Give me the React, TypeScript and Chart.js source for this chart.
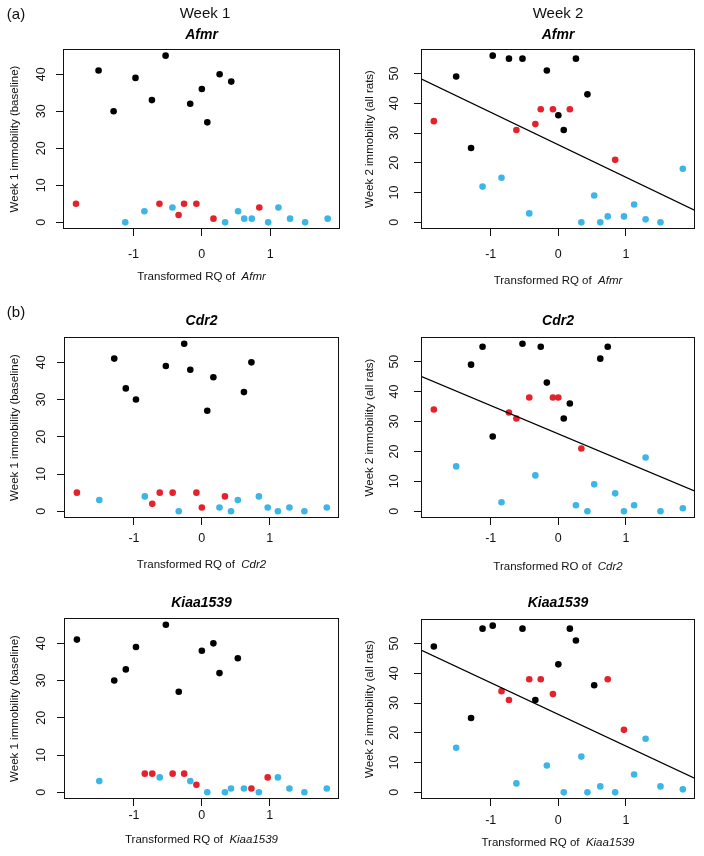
import React, { useEffect, useRef } from "react";
import { Chart, registerables } from "chart.js";

Chart.register(...registerables);

const FONT = '"Liberation Sans", Arial, Helvetica, sans-serif';
Chart.defaults.font.family = FONT;

const BLACK = "#000000";
const RED = "#E4222B";
const BLUE = "#3DB5E6";

// ---------- DATA (transformed RQ = x, immobility = y) ----------
// Afmr
const afmrBlackX = [-1.51, -1.29, -0.97, -0.73, -0.53, -0.17, 0, 0.08, 0.26, 0.43];
const afmrBlackW1 = [41, 30, 39, 33, 45, 32, 36, 27, 40, 38];
const afmrBlackW2 = [49, 25, 56, 55, 55, 51, 36, 31, 55, 43];
const afmrRedX = [-1.84, -0.62, -0.34, -0.26, -0.08, 0.17, 0.84];
const afmrRedW1 = [5, 5, 2, 5, 5, 1, 4];
const afmrRedW2 = [34, 31, 33, 38, 38, 38, 21];
const afmrBlueX = [-1.12, -0.84, -0.43, 0.34, 0.53, 0.62, 0.73, 0.97, 1.12, 1.29, 1.51, 1.84];
const afmrBlueW1 = [0, 3, 4, 0, 3, 1, 1, 0, 4, 1, 0, 1];
const afmrBlueW2 = [12, 15, 3, 0, 9, 0, 2, 2, 6, 1, 0, 18];
const afmrLineY = [48.2, 4.0];

// Cdr2
const cdr2BlackX = [-1.29, -1.12, -0.97, -0.53, -0.26, -0.17, 0.08, 0.17, 0.62, 0.73];
const cdr2BlackW1 = [41, 33, 30, 39, 45, 38, 27, 36, 32, 40];
const cdr2BlackW2 = [49, 55, 25, 56, 55, 43, 31, 36, 51, 55];
const cdr2RedX = [-1.84, -0.73, -0.62, -0.43, -0.08, 0, 0.34];
const cdr2RedW1 = [5, 2, 5, 5, 5, 1, 4];
const cdr2RedW2 = [34, 33, 31, 38, 38, 38, 21];
const cdr2BlueX = [-1.51, -0.84, -0.34, 0.26, 0.43, 0.53, 0.84, 0.97, 1.12, 1.29, 1.51, 1.84];
const cdr2BlueW1 = [3, 4, 0, 1, 0, 3, 4, 1, 0, 1, 0, 1];
const cdr2BlueW2 = [15, 3, 12, 2, 0, 9, 6, 0, 2, 18, 0, 1];
const cdr2LineY = [45.1, 6.7];

// Kiaa1539
const kiaaBlackX = [-1.84, -1.29, -1.12, -0.97, -0.53, -0.34, 0, 0.17, 0.26, 0.53];
const kiaaBlackW1 = [41, 30, 33, 39, 45, 27, 38, 40, 32, 36];
const kiaaBlackW2 = [49, 25, 55, 56, 55, 31, 43, 55, 51, 36];
const kiaaRedX = [-0.84, -0.73, -0.43, -0.26, -0.08, 0.73, 0.97];
const kiaaRedW1 = [5, 5, 5, 5, 2, 1, 4];
const kiaaRedW2 = [34, 31, 38, 38, 33, 38, 21];
const kiaaBlueX = [-1.51, -0.62, -0.17, 0.08, 0.34, 0.43, 0.62, 0.84, 1.12, 1.29, 1.51, 1.84];
const kiaaBlueW1 = [3, 4, 3, 0, 0, 1, 1, 0, 4, 1, 0, 1];
const kiaaBlueW2 = [15, 3, 9, 0, 12, 0, 2, 0, 6, 18, 2, 1];
const kiaaLineY = [47.8, 4.7];

// axes
const xRange = [-2.03, 2.02];
const w1Range = [-1.8, 46.8];
const w2Range = [-2.24, 58.24];
const xTicks = [-1, 0, 1];
const w1Ticks = [0, 10, 20, 30, 40];
const w2Ticks = [0, 10, 20, 30, 40, 50];

const w1Title = "Week 1 immobility (baseline)";
const w2Title = "Week 2 immobility (all rats)";

type Header = { text: string; x: number; y: number };
type Spec = {
  gene: string;
  week: 1 | 2;
  cx: number; cy: number; cw: number; ch: number;
  plot: [number, number, number, number];
  blackX: number[]; blackY: number[];
  redX: number[]; redY: number[];
  blueX: number[]; blueY: number[];
  lineY?: number[];
  titleY: number;
  xLabelY: number;
  xTitleY: number;
  yLabelX: number;
  yTitleX: number;
  headers: Header[];
};

const specs: Spec[] = [
  {
    gene: "Afmr", week: 1, cx: 0, cy: 0, cw: 352, ch: 290, plot: [63, 49, 340, 229],
    blackX: afmrBlackX, blackY: afmrBlackW1, redX: afmrRedX, redY: afmrRedW1, blueX: afmrBlueX, blueY: afmrBlueW1,
    titleY: 35, xLabelY: 255, xTitleY: 277, yLabelX: 42, yTitleX: 15,
    headers: [{ text: "(a)", x: 16, y: 15 }, { text: "Week 1", x: 205, y: 14 }],
  },
  {
    gene: "Afmr", week: 2, cx: 352, cy: 0, cw: 352, ch: 290, plot: [421, 49, 695, 229],
    blackX: afmrBlackX, blackY: afmrBlackW2, redX: afmrRedX, redY: afmrRedW2, blueX: afmrBlueX, blueY: afmrBlueW2,
    lineY: afmrLineY,
    titleY: 35, xLabelY: 255, xTitleY: 281, yLabelX: 395, yTitleX: 370,
    headers: [{ text: "Week 2", x: 558, y: 14 }],
  },
  {
    gene: "Cdr2", week: 1, cx: 0, cy: 290, cw: 352, ch: 280, plot: [64, 337, 339, 518],
    blackX: cdr2BlackX, blackY: cdr2BlackW1, redX: cdr2RedX, redY: cdr2RedW1, blueX: cdr2BlueX, blueY: cdr2BlueW1,
    titleY: 321, xLabelY: 539, xTitleY: 565, yLabelX: 42, yTitleX: 15,
    headers: [{ text: "(b)", x: 16, y: 313 }],
  },
  {
    gene: "Cdr2", week: 2, cx: 352, cy: 290, cw: 352, ch: 280, plot: [421, 337, 695, 518],
    blackX: cdr2BlackX, blackY: cdr2BlackW2, redX: cdr2RedX, redY: cdr2RedW2, blueX: cdr2BlueX, blueY: cdr2BlueW2,
    lineY: cdr2LineY,
    titleY: 321, xLabelY: 539, xTitleY: 567, yLabelX: 395, yTitleX: 370,
    headers: [],
  },
  {
    gene: "Kiaa1539", week: 1, cx: 0, cy: 570, cw: 352, ch: 286, plot: [64, 618, 339, 799],
    blackX: kiaaBlackX, blackY: kiaaBlackW1, redX: kiaaRedX, redY: kiaaRedW1, blueX: kiaaBlueX, blueY: kiaaBlueW1,
    titleY: 603, xLabelY: 816, xTitleY: 840, yLabelX: 42, yTitleX: 15,
    headers: [],
  },
  {
    gene: "Kiaa1539", week: 2, cx: 352, cy: 570, cw: 352, ch: 286, plot: [421, 619, 695, 799],
    blackX: kiaaBlackX, blackY: kiaaBlackW2, redX: kiaaRedX, redY: kiaaRedW2, blueX: kiaaBlueX, blueY: kiaaBlueW2,
    lineY: kiaaLineY,
    titleY: 603, xLabelY: 821, xTitleY: 843, yLabelX: 395, yTitleX: 370,
    headers: [],
  },
];

const TICK_SIZE = 12.5;
const TICK_LEN = 7;

function pts(xs: number[], ys: number[]) {
  return xs.map((x, i) => ({ x, y: ys[i] }));
}

function Panel({ spec }: { spec: Spec }) {
  const ref = useRef<HTMLCanvasElement | null>(null);

  useEffect(() => {
    const canvas = ref.current;
    if (!canvas) return;
    const s = spec;
    const [pl, pt, pr, pb] = s.plot;
    const yRange = s.week === 1 ? w1Range : w2Range;
    const yTicks = s.week === 1 ? w1Ticks : w2Ticks;
    const yTitle = s.week === 1 ? w1Title : w2Title;

    const datasets: any[] = [];
    if (s.lineY) {
      datasets.push({
        data: [{ x: xRange[0], y: s.lineY[0] }, { x: xRange[1], y: s.lineY[1] }],
        showLine: true,
        borderColor: BLACK,
        borderWidth: 1.3,
        pointRadius: 0,
        fill: false,
      });
    }
    const dot = (data: any[], color: string) => ({
      data,
      pointRadius: 3.3,
      pointBackgroundColor: color,
      pointBorderColor: color,
      pointBorderWidth: 0,
      backgroundColor: color,
      borderColor: color,
      showLine: false,
    });
    datasets.push(dot(pts(s.blueX, s.blueY), BLUE));
    datasets.push(dot(pts(s.redX, s.redY), RED));
    datasets.push(dot(pts(s.blackX, s.blackY), BLACK));

    const decor = {
      id: "decor" + s.gene + s.week,
      afterDraw(chart: any) {
        const ctx = chart.ctx as CanvasRenderingContext2D;
        const a = chart.chartArea;
        ctx.save();
        // plot box
        ctx.strokeStyle = "#111";
        ctx.lineWidth = 1;
        ctx.strokeRect(Math.round(a.left) + 0.5, Math.round(a.top) + 0.5,
          Math.round(a.right - a.left) - 1, Math.round(a.bottom - a.top) - 1);

        // y tick labels (rotated, as in R)
        const ys = chart.scales.y;
        ctx.fillStyle = "#111";
        ctx.font = `${TICK_SIZE}px ${FONT}`;
        ctx.textAlign = "center";
        ctx.textBaseline = "middle";
        for (const v of yTicks) {
          const py = ys.getPixelForValue(v);
          ctx.save();
          ctx.translate(s.yLabelX - s.cx, py);
          ctx.rotate(-Math.PI / 2);
          ctx.fillText(String(v), 0, 0);
          ctx.restore();
        }

        // y title
        ctx.font = `11.5px ${FONT}`;
        ctx.save();
        ctx.translate(s.yTitleX - s.cx, (a.top + a.bottom) / 2);
        ctx.rotate(-Math.PI / 2);
        ctx.fillText(yTitle, 0, 0);
        ctx.restore();

        // x title with italic gene
        const part1 = "Transformed RQ of  ";
        ctx.font = `11.5px ${FONT}`;
        const w1 = ctx.measureText(part1).width;
        ctx.font = `italic 11.5px ${FONT}`;
        const w2 = ctx.measureText(s.gene).width;
        const startX = (a.left + a.right) / 2 - (w1 + w2) / 2;
        const ty = s.xTitleY - s.cy;
        ctx.textAlign = "left";
        ctx.font = `11.5px ${FONT}`;
        ctx.fillText(part1, startX, ty);
        ctx.font = `italic 11.5px ${FONT}`;
        ctx.fillText(s.gene, startX + w1, ty);

        // panel title (bold italic)
        ctx.textAlign = "center";
        ctx.fillStyle = "#000";
        ctx.font = `italic bold 14px ${FONT}`;
        ctx.fillText(s.gene, (a.left + a.right) / 2, s.titleY - s.cy);

        // headers
        ctx.font = `15px ${FONT}`;
        ctx.fillStyle = "#111";
        for (const h of s.headers) {
          ctx.fillText(h.text, h.x - s.cx, h.y - s.cy);
        }
        ctx.restore();
      },
    };

    const xPad = s.xLabelY - pb - TICK_LEN - 0.6 * TICK_SIZE;

    const chart = new Chart(canvas, {
      type: "scatter",
      data: { datasets },
      options: {
        animation: false,
        responsive: false,
        maintainAspectRatio: false,
        layout: { padding: { left: 0, top: pt - s.cy, right: s.cx + s.cw - pr, bottom: 0 } },
        plugins: {
          legend: { display: false },
          tooltip: { enabled: false },
          title: { display: false },
        },
        scales: {
          x: {
            type: "linear",
            min: xRange[0],
            max: xRange[1],
            afterBuildTicks: (ax: any) => {
              ax.ticks = xTicks.map((v) => ({ value: v }));
            },
            afterFit: (ax: any) => {
              ax.height = s.cy + s.ch - pb;
            },
            grid: { drawOnChartArea: false, drawTicks: true, tickLength: TICK_LEN, color: "#111", lineWidth: 1 },
            border: { display: false },
            ticks: {
              autoSkip: false,
              maxRotation: 0,
              minRotation: 0,
              padding: xPad,
              color: "#111",
              font: { size: TICK_SIZE, family: FONT },
              callback: (v: any) => String(v),
            },
          },
          y: {
            type: "linear",
            min: yRange[0],
            max: yRange[1],
            afterBuildTicks: (ax: any) => {
              ax.ticks = yTicks.map((v) => ({ value: v }));
            },
            afterFit: (ax: any) => {
              ax.width = pl - s.cx;
            },
            grid: { drawOnChartArea: false, drawTicks: true, tickLength: TICK_LEN, color: "#111", lineWidth: 1 },
            border: { display: false },
            ticks: { display: false },
          },
        },
      },
      plugins: [decor],
    } as any);

    return () => chart.destroy();
  }, [spec]);

  return (
    <canvas
      ref={ref}
      width={spec.cw}
      height={spec.ch}
      style={{ position: "absolute", left: spec.cx, top: spec.cy, width: spec.cw, height: spec.ch, display: "block" }}
    />
  );
}

export default function App() {
  return (
    <div style={{ position: "absolute", left: 0, top: 0, width: 704, height: 856, background: "#fff", overflow: "hidden" }}>
      {specs.map((s, i) => (
        <Panel key={i} spec={s} />
      ))}
    </div>
  );
}
